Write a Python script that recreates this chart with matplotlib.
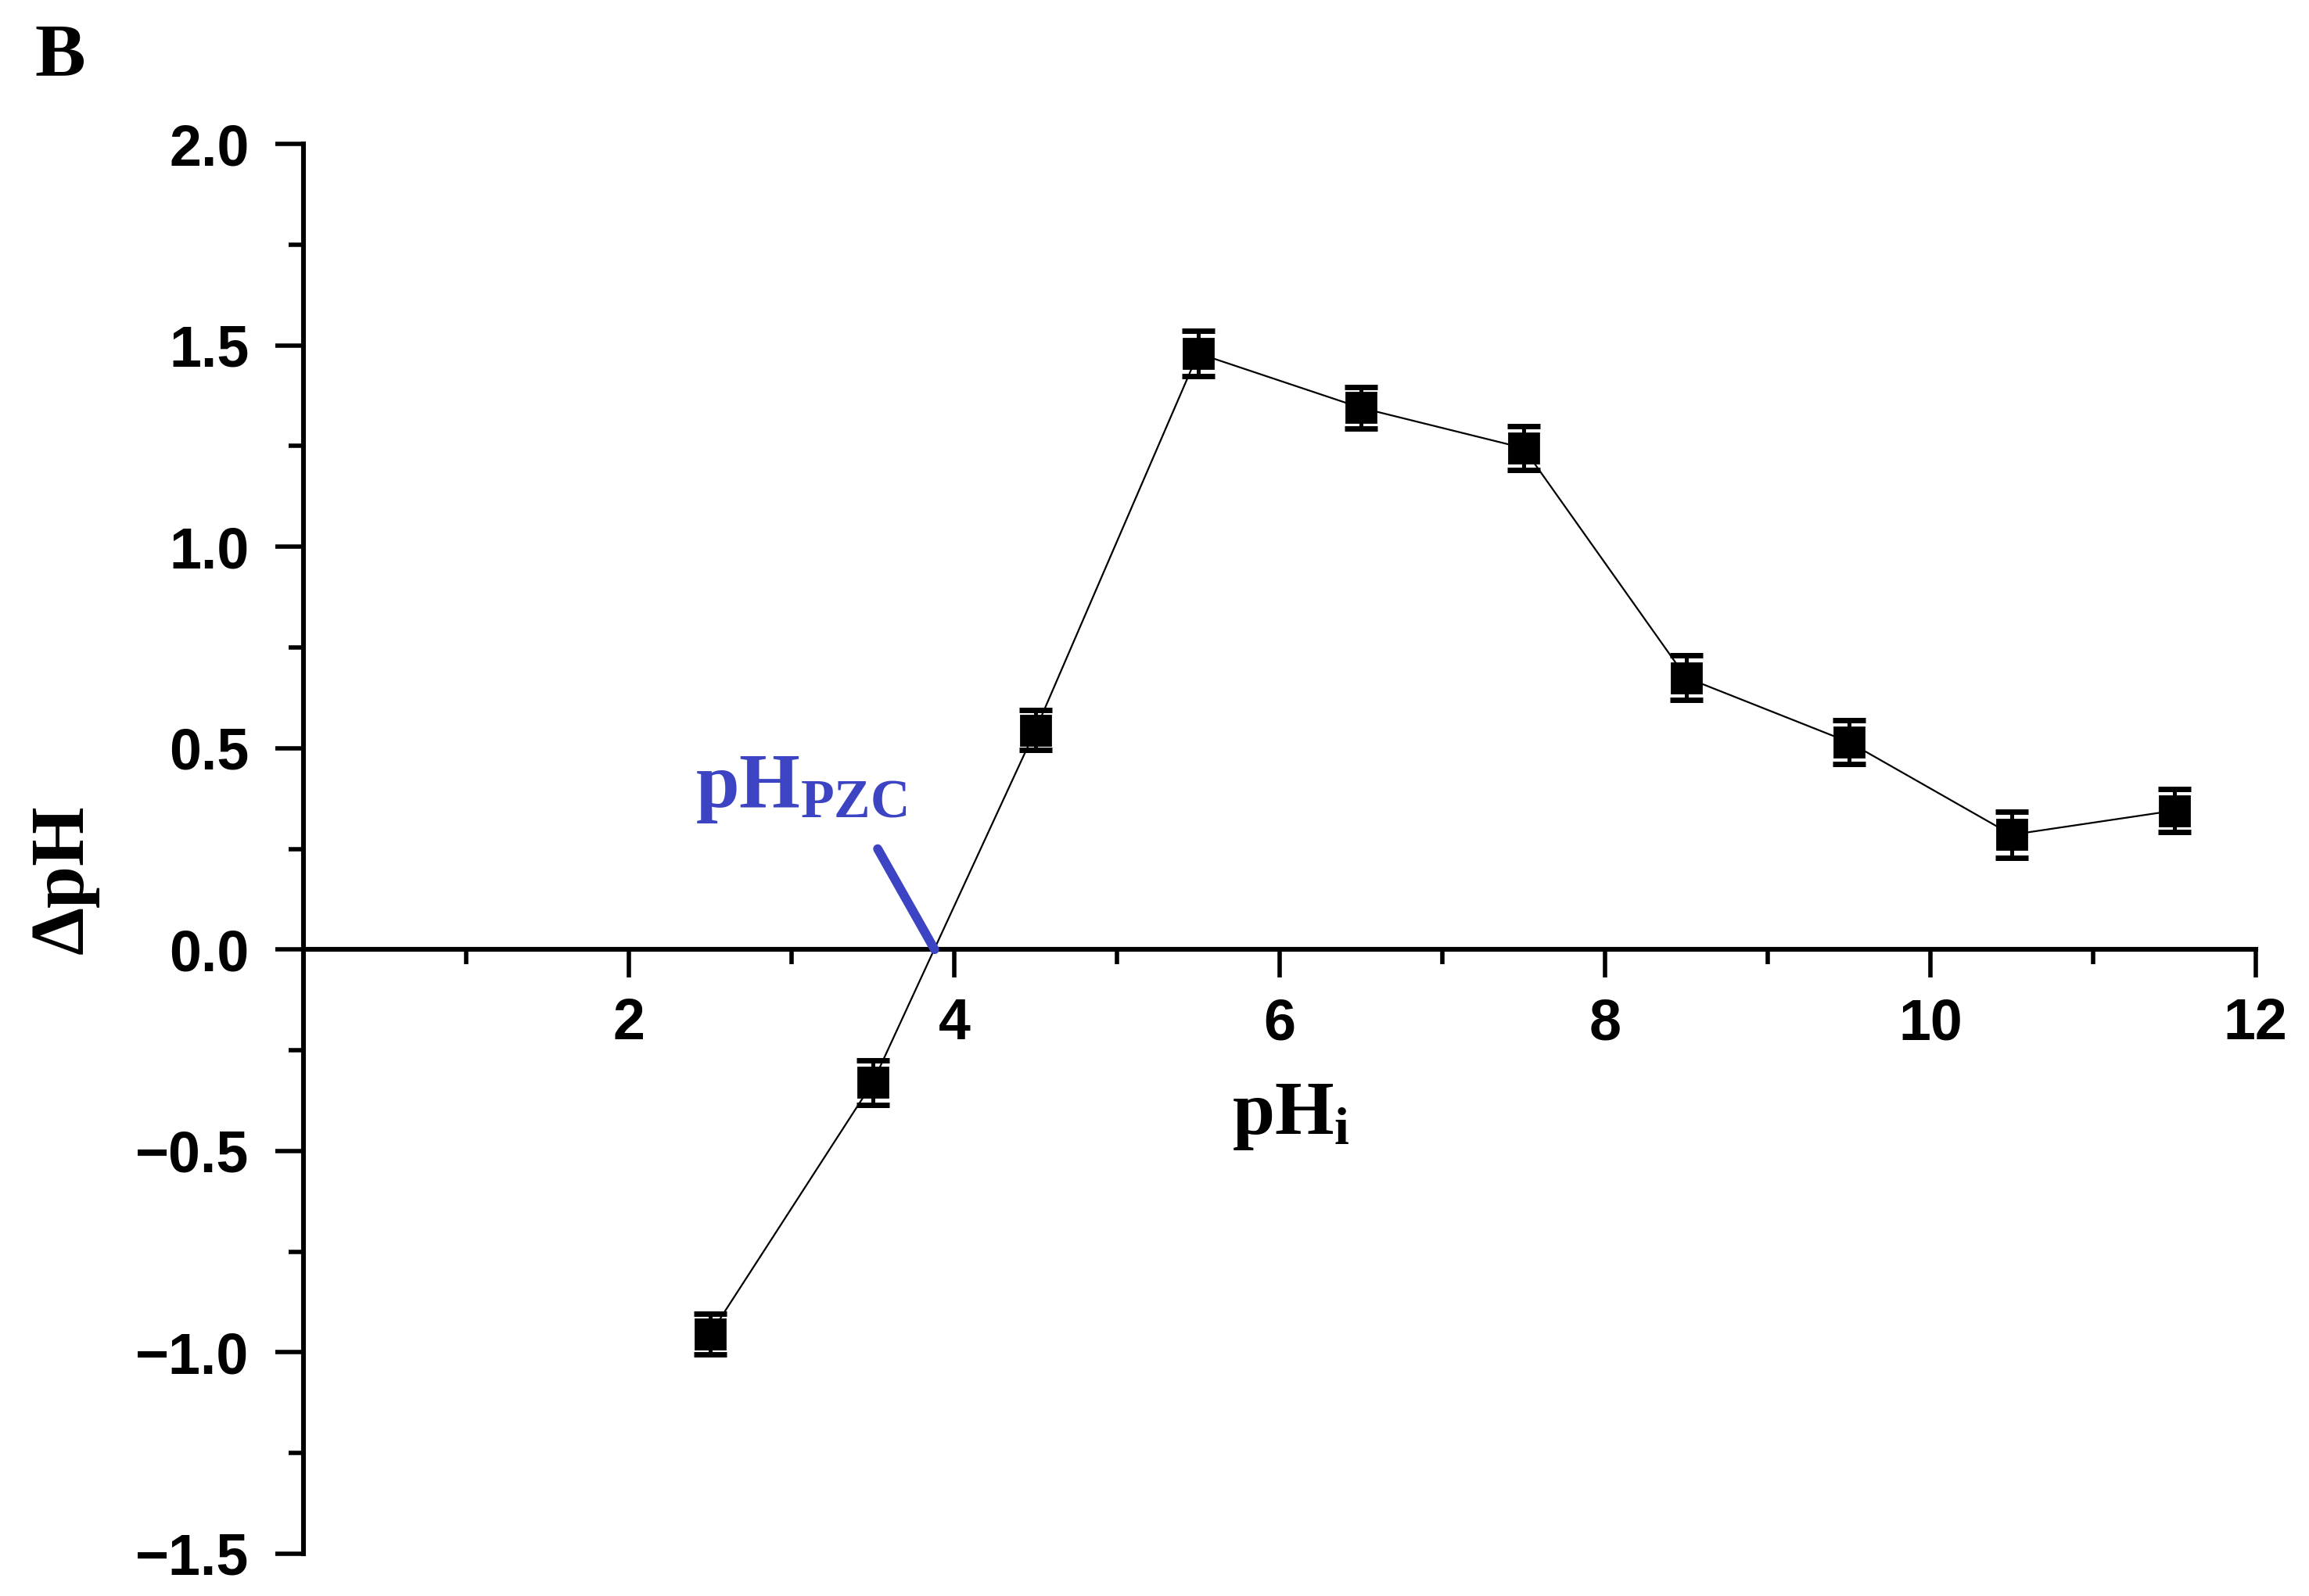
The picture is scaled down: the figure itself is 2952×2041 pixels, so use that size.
import matplotlib
matplotlib.use('Agg')
import matplotlib.pyplot as plt
from matplotlib.ticker import MultipleLocator, FixedLocator, FuncFormatter

# Data
ph_initial = [2.5, 3.5, 4.5, 5.5, 6.5, 7.5, 8.5, 9.5, 10.5, 11.5]
delta_ph = [-0.955, -0.33, 0.545, 1.48, 1.345, 1.245, 0.675, 0.515, 0.285, 0.345]
delta_ph_err = [0.05, 0.055, 0.05, 0.057, 0.051, 0.054, 0.055, 0.054, 0.057, 0.054]

pzc_line_x = [3.53, 3.88]
pzc_line_y = [0.25, 0.0]

x_major = [2, 4, 6, 8, 10, 12]
x_minor = [1, 3, 5, 7, 9, 11]

blue = '#3C44C4'

plt.rcParams['mathtext.fontset'] = 'custom'
plt.rcParams['mathtext.rm'] = 'Liberation Serif:bold'
plt.rcParams['mathtext.it'] = 'Liberation Serif:bold'
plt.rcParams['mathtext.bf'] = 'Liberation Serif:bold'

fig = plt.figure(figsize=(14.76, 10.205), dpi=200)
ax = fig.add_axes([0.1314, 0.0265, 0.8455, 0.8833])

# Data line with error bars
ax.plot(ph_initial, delta_ph, color='black', linewidth=0.8, zorder=2)
ax.errorbar(ph_initial, delta_ph, yerr=delta_ph_err, fmt='s', color='black',
            markersize=13.5, elinewidth=1.8, capsize=7.5, capthick=2.5,
            zorder=3)

# pHpzc marker line and label
ax.plot(pzc_line_x, pzc_line_y, color=blue, linewidth=4.2,
        solid_capstyle='round', zorder=4)
ax.text(2.41, 0.353, r'$\mathrm{pH_{PZC}}$', color=blue, fontsize=36,
        ha='left', va='baseline')

# Axes
ax.set_xlim(0, 12)
ax.set_ylim(-1.5, 2.0)
ax.spines['top'].set_visible(False)
ax.spines['right'].set_visible(False)
ax.spines['bottom'].set_position(('data', 0))
for s in ['left', 'bottom']:
    ax.spines[s].set_linewidth(2.2)

ax.xaxis.set_major_locator(FixedLocator(x_major))
ax.xaxis.set_minor_locator(FixedLocator(x_minor))
ax.yaxis.set_major_locator(MultipleLocator(0.5))
ax.yaxis.set_minor_locator(MultipleLocator(0.25))
ax.yaxis.set_major_formatter(
    FuncFormatter(lambda v, pos: ('%.1f' % v).replace('-', '\u2212')))

ax.tick_params(which='major', direction='out', length=13, width=2.0)
ax.tick_params(which='minor', direction='out', length=7, width=2.0)
ax.tick_params(axis='x', which='major', pad=9)
ax.tick_params(axis='y', which='major', pad=12)

for lbl in ax.get_xticklabels() + ax.get_yticklabels():
    lbl.set_fontfamily('Liberation Sans')
    lbl.set_fontweight('bold')
    lbl.set_fontsize(26.5)

# Axis labels
ax.text(6.07, -0.458, r'$\mathrm{pH_{i}}$', fontsize=35, ha='center',
        va='baseline', clip_on=False)
ax.text(-1.47, 0.175, 'ΔpH', fontsize=35, family='Liberation Serif',
        fontweight='bold', rotation=90, ha='center', va='center',
        clip_on=False)

# Panel letter
fig.text(0.0152, 0.9525, 'B', fontsize=35, family='Liberation Serif',
         fontweight='bold', ha='left', va='baseline')

fig.savefig('out.png', dpi=200, facecolor='white')
